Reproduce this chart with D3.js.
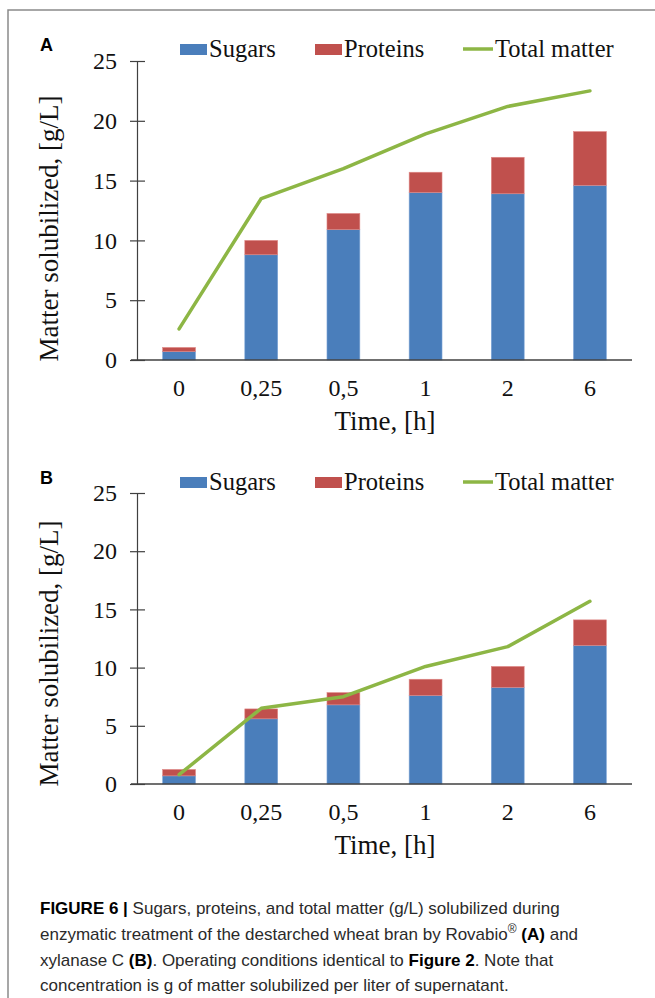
<!DOCTYPE html>
<html>
<head>
<meta charset="utf-8">
<script src="https://cdn.jsdelivr.net/npm/d3@7"></script>
<style>
  html, body { margin: 0; padding: 0; background: #fff; }
  svg { display: block; }
</style>
</head>
<body>
<svg id="chart" width="655" height="998"></svg>
<script>
// ---------- data ----------
const categories = ["0", "0,25", "0,5", "1", "2", "6"];
const yTicks = [0, 5, 10, 15, 20, 25];
const seriesNames = ["Sugars", "Proteins", "Total matter"];

const sugarsA   = [0.7, 8.8, 10.9, 14.0, 13.9, 14.6];
const proteinsA = [0.35, 1.2, 1.35, 1.7, 3.05, 4.5];
const totalA    = [2.6, 13.5, 16.0, 18.9, 21.2, 22.5];

const sugarsB   = [0.7, 5.6, 6.8, 7.6, 8.3, 11.9];
const proteinsB = [0.55, 0.85, 1.05, 1.4, 1.8, 2.2];
const totalB    = [0.8, 6.5, 7.5, 10.1, 11.8, 15.7];

// ---------- style ----------
const C_SUGAR = "#4A7EBB", C_PROT = "#C0504D", C_TOTAL = "#8DB645";
const SERIF = "'Liberation Serif', 'Times New Roman', serif";
const SANS = "'Liberation Sans', Arial, sans-serif";

const svg = d3.select("#chart");

// frame
svg.append("path")
  .attr("d", "M8,998 L8,10 L655,10")
  .attr("fill", "none").attr("stroke", "#8a8a8a").attr("stroke-width", 1.5);

function drawPanel(opt) {
  const { label, sugars, proteins, total, top, bottom, legendY, titleY } = opt;
  const g = svg.append("g");

  const x = d3.scaleBand().domain(categories).range([138, 631])
    .paddingInner(0.6).paddingOuter(0.3);
  const y = d3.scaleLinear().domain([0, 25]).range([bottom, top]);

  // bars
  const rows = categories.map((c, i) => ({ c, s: sugars[i], p: proteins[i] }));
  g.selectAll("rect.s").data(rows).join("rect")
    .attr("x", d => x(d.c)).attr("width", x.bandwidth())
    .attr("y", d => y(d.s)).attr("height", d => y(0) - y(d.s))
    .attr("fill", C_SUGAR).attr("stroke", "#7ea6d8").attr("stroke-width", 0.6);
  g.selectAll("rect.p").data(rows).join("rect")
    .attr("x", d => x(d.c)).attr("width", x.bandwidth())
    .attr("y", d => y(d.s + d.p)).attr("height", d => y(d.s) - y(d.s + d.p))
    .attr("fill", C_PROT).attr("stroke", "#e08a88").attr("stroke-width", 0.6);

  // y axis
  const ya = g.append("g").attr("transform", "translate(137,0)")
    .call(d3.axisLeft(y).tickValues(yTicks).tickSize(7).tickPadding(13).tickSizeOuter(0));
  ya.select(".domain").attr("stroke", "#404040").attr("stroke-width", 1.2);
  ya.selectAll(".tick line").attr("x1", 8).attr("stroke", "#404040").attr("stroke-width", 1.2);
  ya.selectAll(".tick text").attr("font-family", SERIF).attr("font-size", 24).attr("fill", "#111");

  // x axis
  const xa = g.append("g").attr("transform", `translate(0,${bottom})`)
    .call(d3.axisBottom(x).tickSize(0).tickPadding(19));
  xa.select(".domain").attr("d", "M131,0H632").attr("stroke", "#404040").attr("stroke-width", 1.4);
  xa.selectAll(".tick text").attr("font-family", SERIF).attr("font-size", 24).attr("fill", "#111");

  // total line
  const line = d3.line().x((d, i) => x(categories[i]) + x.bandwidth() / 2).y(d => y(d));
  g.append("path").datum(total).attr("d", line)
    .attr("fill", "none").attr("stroke", C_TOTAL).attr("stroke-width", 3.5)
    .attr("stroke-linejoin", "round").attr("stroke-linecap", "round");

  // axis titles
  g.append("text").attr("x", 385).attr("y", bottom + 70)
    .attr("text-anchor", "middle").attr("font-family", SERIF).attr("font-size", 27).attr("fill", "#111")
    .text("Time, [h]");
  g.append("text").attr("transform", `translate(58,${titleY}) rotate(-90)`)
    .attr("text-anchor", "middle").attr("font-family", SERIF).attr("font-size", 27).attr("fill", "#111")
    .text("Matter solubilized, [g/L]");

  // panel label
  g.append("text").attr("x", 40).attr("y", legendY + 2).attr("font-family", SANS)
    .attr("font-weight", "bold").attr("font-size", 18).attr("fill", "#000").text(label);

  // legend
  const lg = g.append("g").attr("font-family", SERIF).attr("font-size", 24.5).attr("fill", "#111");
  lg.append("rect").attr("x", 180).attr("y", legendY - 5).attr("width", 27).attr("height", 11).attr("fill", C_SUGAR);
  lg.append("text").attr("x", 209).attr("y", legendY + 8).text(seriesNames[0]);
  lg.append("rect").attr("x", 315).attr("y", legendY - 5).attr("width", 27).attr("height", 11).attr("fill", C_PROT);
  lg.append("text").attr("x", 344).attr("y", legendY + 8).text(seriesNames[1]);
  lg.append("line").attr("x1", 463).attr("x2", 493).attr("y1", legendY).attr("y2", legendY)
    .attr("stroke", C_TOTAL).attr("stroke-width", 3.5);
  lg.append("text").attr("x", 495).attr("y", legendY + 8).text(seriesNames[2]);
}

drawPanel({ label: "A", sugars: sugarsA, proteins: proteinsA, total: totalA, top: 61, bottom: 360, legendY: 49, titleY: 228.5 });
drawPanel({ label: "B", sugars: sugarsB, proteins: proteinsB, total: totalB, top: 493, bottom: 784, legendY: 482, titleY: 653.5 });

// caption
const capLines = [
  [["FIGURE 6 | ", true], ["Sugars, proteins, and total matter (g/L) solubilized during", false]],
  [["enzymatic treatment of the destarched wheat bran by Rovabio", false], ["®", false, "sup"], [" ", false, "down"], ["(A)", true], [" and", false]],
  [["xylanase C ", false], ["(B)", true], [". Operating conditions identical to ", false], ["Figure 2", true], [". Note that", false]],
  [["concentration is g of matter solubilized per liter of supernatant.", false]]
];
const capY = [914, 940, 966, 991];
capLines.forEach((parts, li) => {
  const t = svg.append("text").attr("x", 40).attr("y", capY[li])
    .attr("font-family", SANS).attr("font-size", 17).attr("fill", "#2a2a2a");
  parts.forEach(([s, bold, mod]) => {
    const ts = t.append("tspan").text(s);
    if (bold) ts.attr("font-weight", "bold").attr("fill", "#000");
    if (mod === "sup") ts.attr("dy", -7).attr("font-size", 12);
    if (mod === "down") ts.attr("dy", 7);
  });
});
</script>
</body>
</html>
